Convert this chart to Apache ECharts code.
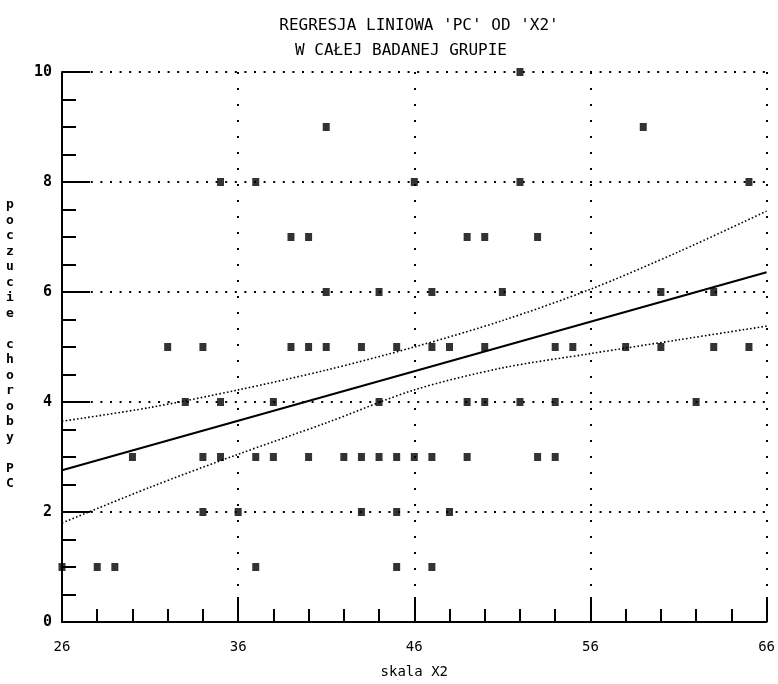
<!DOCTYPE html>
<html>
<head>
<meta charset="utf-8">
<script src="https://cdn.jsdelivr.net/npm/echarts@6/dist/echarts.min.js"></script>
<style>
html,body{margin:0;padding:0;background:#fff;}
#chart{width:778px;height:684px;}
</style>
</head>
<body>
<div id="chart"></div>
<script>
// ---- data ----
var titleLine1 = "REGRESJA LINIOWA 'PC' OD 'X2'";
var titleLine2 = "W CAŁEJ BADANEJ GRUPIE";
var xAxisTitle = "skala X2";
var yAxisTitle = "poczucie choroby PC";

// observations: x (skala X2) and y (poczucie choroby PC)
var obsX = [
  52,
  41, 59,
  35, 37, 46, 52, 65,
  39, 40, 49, 50, 53,
  41, 44, 47, 51, 60, 63,
  32, 34, 39, 40, 41, 43, 45, 47, 48, 50, 54, 55, 58, 60, 63, 65,
  33, 35, 38, 44, 49, 50, 52, 54, 62,
  30, 34, 35, 37, 38, 40, 42, 43, 44, 45, 46, 47, 49, 53, 54,
  34, 36, 43, 45, 48,
  26, 28, 29, 37, 45, 47
];
var obsY = [
  10,
  9, 9,
  8, 8, 8, 8, 8,
  7, 7, 7, 7, 7,
  6, 6, 6, 6, 6, 6,
  5, 5, 5, 5, 5, 5, 5, 5, 5, 5, 5, 5, 5, 5, 5, 5,
  4, 4, 4, 4, 4, 4, 4, 4, 4,
  3, 3, 3, 3, 3, 3, 3, 3, 3, 3, 3, 3, 3, 3, 3,
  2, 2, 2, 2, 2,
  1, 1, 1, 1, 1, 1
];

// regression line (end points)
var regX = [26, 66];
var regY = [2.76, 6.36];

// confidence band
var bandX = [26, 31, 36, 41, 46, 51, 56, 61, 66];
var bandUpper = [3.65, 3.90, 4.22, 4.58, 5.00, 5.48, 6.05, 6.73, 7.47];
var bandLower = [1.80, 2.45, 3.05, 3.62, 4.22, 4.62, 4.88, 5.13, 5.38];

// axis ticks
var xMin = 26, xMax = 66, xStep = 10;
var yMin = 0, yMax = 10, yStep = 2;

function pairs(xs, ys){ return xs.map(function(x,i){ return [x, ys[i]]; }); }

var ink = '#000';
var mono = '"DejaVu Sans Mono", "Liberation Mono", monospace';

var chart = echarts.init(document.getElementById('chart'), null, {renderer:'canvas'});
chart.setOption({
  animation: false,
  backgroundColor: '#fff',
  title: [
    {text: titleLine1, left: 414, top: 13, textAlign: 'center',
     textStyle: {fontFamily: mono, fontSize: 16, fontWeight: 'normal', color: ink}},
    {text: titleLine2, left: 396, top: 38, textAlign: 'center',
     textStyle: {fontFamily: mono, fontSize: 16, fontWeight: 'normal', color: ink}}
  ],
  grid: {left: 62, right: 11, top: 72, bottom: 62, containLabel: false},
  xAxis: {
    type: 'value', min: xMin, max: xMax, interval: xStep,
    name: xAxisTitle, nameLocation: 'middle', nameGap: 43,
    nameTextStyle: {fontFamily: mono, fontSize: 14, color: ink},
    axisLine: {show: true, onZero: false, lineStyle: {color: ink, width: 2}},
    axisTick: {show: true, inside: true, length: 25, lineStyle: {color: ink, width: 2}},
    minorTick: {show: true, splitNumber: 5, length: 13, lineStyle: {color: ink, width: 2}},
    axisLabel: {margin: 18, fontFamily: mono, fontSize: 14, color: ink},
    splitLine: {show: true, lineStyle: {color: ink, width: 2, type: [2, 14]}},
    minorSplitLine: {show: false}
  },
  yAxis: {
    type: 'value', min: yMin, max: yMax, interval: yStep,
    axisLine: {show: true, onZero: false, lineStyle: {color: ink, width: 2}},
    axisTick: {show: true, inside: true, length: 28, lineStyle: {color: ink, width: 2}},
    minorTick: {show: true, splitNumber: 4, length: 14, lineStyle: {color: ink, width: 2}},
    axisLabel: {margin: 10, fontFamily: mono, fontSize: 15, fontWeight: 'bold', color: ink},
    splitLine: {show: true, lineStyle: {color: ink, width: 2, type: [2, 7.6]}},
    minorSplitLine: {show: false}
  },
  graphic: [
    {type: 'text', left: 6, top: 197,
     style: {text: yAxisTitle.split('').join('\n'),
             font: 'bold 13px ' + mono, fill: ink, lineHeight: 15.5, align: 'center'}}
  ],
  series: [
    {type: 'line', data: pairs(bandX, bandUpper), smooth: 0.3, symbol: 'none',
     lineStyle: {color: ink, width: 1.6, type: [1.6, 2.2]}, z: 3},
    {type: 'line', data: pairs(bandX, bandLower), smooth: 0.3, symbol: 'none',
     lineStyle: {color: ink, width: 1.6, type: [1.6, 2.2]}, z: 3},
    {type: 'line', data: pairs(regX, regY), symbol: 'none',
     lineStyle: {color: ink, width: 2.2, type: 'solid'}, z: 4},
    {type: 'scatter', data: pairs(obsX, obsY), symbol: 'rect', symbolSize: [7, 8],
     itemStyle: {color: ink}, z: 5}
  ]
});
</script>
</body>
</html>
